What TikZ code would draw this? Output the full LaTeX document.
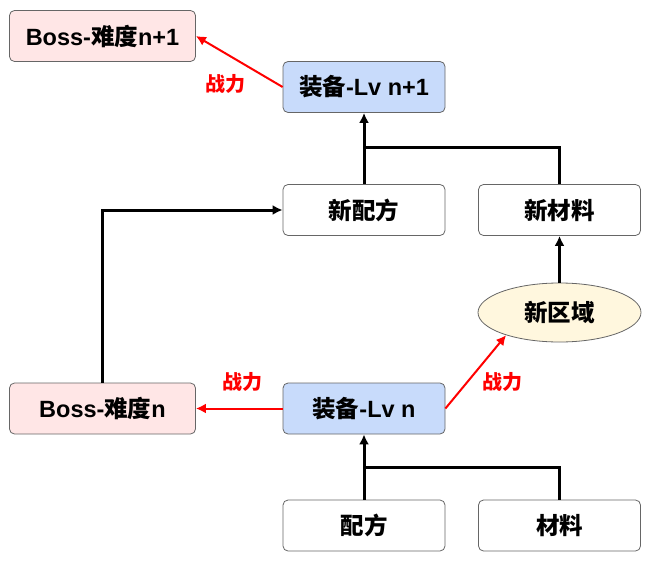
\documentclass[tikz,border=0pt]{standalone}
\usepackage{fontspec}
\setmainfont{Liberation Sans}
\newfontfamily\cjk{Noto Sans CJK SC}
\usetikzlibrary{arrows.meta,shapes.geometric}
\definecolor{boxgray}{RGB}{102,102,102}
\definecolor{bosspink}{RGB}{255,230,230}
\definecolor{gearblue}{RGB}{200,219,251}
\definecolor{areayellow}{RGB}{255,247,222}
\definecolor{powerred}{RGB}{255,0,0}
\begin{document}
\begin{tikzpicture}[x=1pt,y=-1pt,>={Latex[length=10pt,width=10pt]},
	box/.style={draw=boxgray,line width=0.8pt,rounded corners=5pt,fill=white,
		minimum width=162pt,minimum height=51pt,inner sep=0pt,
		font=\fontsize{23.5}{27}\selectfont\bfseries},
	boss/.style={box,fill=bosspink,minimum width=186pt},
	gear/.style={box,fill=gearblue},
	region/.style={ellipse,draw=boxgray,line width=0.8pt,fill=areayellow,
		minimum width=163pt,minimum height=59pt,inner sep=0pt,
		font=\fontsize{23.5}{27}\selectfont\bfseries},
	link/.style={line width=3pt},
	power/.style={line width=2pt,draw=powerred},
	powerlabel/.style={text=powerred,font=\fontsize{20}{23}\selectfont\bfseries\cjk}]
	\useasboundingbox (0,0) rectangle (652,564);

	% level n+1
	\node[boss] (bossB) at (102.5,36) {Boss-{\cjk 难度}n+1};
	\node[gear] (gearB) at (364,87) {{\cjk 装备}-Lv n+1};
	\node[box] (recipeB) at (364,210) {\cjk 新配方};
	\node[box] (matB) at (559.5,210) {\cjk 新材料};
	\node[region] (area) at (559.5,312.5) {\cjk 新区域};

	% level n
	\node[boss] (bossA) at (102.5,408.5) {Boss-{\cjk 难度}n};
	\node[gear] (gearA) at (364,408.5) {{\cjk 装备}-Lv n};
	\node[box] (recipeA) at (364,525.5) {\cjk 配方};
	\node[box] (matA) at (559.5,525.5) {\cjk 材料};

	% junctions
	\coordinate (junA) at (364,467);
	\coordinate (junB) at (364,148);

	% crafting
	\draw[link,->] (recipeA.north) -- (gearA.south);
	\draw[link] (matA.north) |- (junA);
	\draw[link,->] (recipeB.north) -- (gearB.south);
	\draw[link] (matB.north) |- (junB);
	\draw[link,->] (area.north) -- (matB.south);
	\draw[link,->] (bossA.north) |- (recipeB.west);

	% power
	\draw[power,->] (gearA.west) -- (bossA.east);
	\draw[power,->] (gearA.east) -- (area.203);
	\draw[power,->] (gearB.west) -- (bossB.east);
	\node[powerlabel] (powA) at (242,382) {战力};
	\node[powerlabel] (powR) at (502,382) {战力};
	\node[powerlabel] (powB) at (225,84) {战力};
\end{tikzpicture}
\end{document}
